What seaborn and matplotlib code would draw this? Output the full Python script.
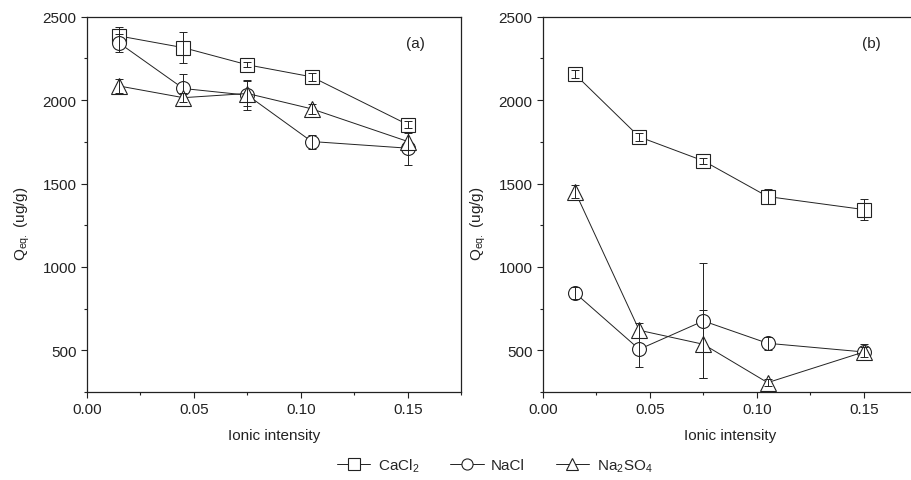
import matplotlib
matplotlib.use('Agg')
import matplotlib.pyplot as plt
import numpy as np
import pandas as pd
import seaborn as sns
from matplotlib.lines import Line2D
from matplotlib.ticker import MultipleLocator, FormatStrFormatter

# ionic intensity values shared by all series
ionic = [0.015, 0.045, 0.075, 0.105, 0.15]
salts = ['CaCl2', 'NaCl', 'Na2SO4']
salt_labels = [r'CaCl$_2$', 'NaCl', r'Na$_2$SO$_4$']
salt_markers = ['s', 'o', '^']

# panel (a)
a_cacl2 = [2385, 2315, 2212, 2140, 1853]
a_cacl2_err = [55, 95, 15, 25, 20]
a_nacl = [2343, 2070, 2030, 1752, 1712]
a_nacl_err = [55, 85, 90, 42, 100]
a_na2so4 = [2085, 2015, 2040, 1948, 1752]
a_na2so4_err = [42, 28, 75, 30, 50]

# panel (b)
b_cacl2 = [2155, 1780, 1636, 1422, 1344]
b_cacl2_err = [25, 22, 18, 45, 62]
b_nacl = [844, 506, 676, 542, 490]
b_nacl_err = [38, 105, 345, 40, 50]
b_na2so4 = [1452, 620, 536, 306, 490]
b_na2so4_err = [40, 45, 205, 20, 30]

panels = {
    '(a)': ([a_cacl2, a_nacl, a_na2so4], [a_cacl2_err, a_nacl_err, a_na2so4_err]),
    '(b)': ([b_cacl2, b_nacl, b_na2so4], [b_cacl2_err, b_nacl_err, b_na2so4_err]),
}

sns.set_style('ticks')
plt.rcParams['font.family'] = ['Liberation Sans', 'DejaVu Sans']
plt.rcParams['mathtext.fontset'] = 'custom'
plt.rcParams['mathtext.rm'] = 'Liberation Sans'

ink = '#222222'
fs = 11
fig = plt.figure(figsize=(9.11, 4.81), dpi=100)
axes = [fig.add_axes([0.0955, 0.183, 0.411, 0.780]),
        fig.add_axes([0.596, 0.183, 0.411, 0.780])]

for ax, (tag, (series, errs)) in zip(axes, panels.items()):
    for i, (salt, vals, err, mk) in enumerate(zip(salts, series, errs, salt_markers)):
        df = pd.DataFrame({'ionic': ionic, 'q': vals})
        sns.lineplot(data=df, x='ionic', y='q', ax=ax, color=ink, linewidth=0.7,
                     marker=mk, markersize=10 if mk != '^' else 11,
                     markerfacecolor='white', markeredgecolor=ink,
                     markeredgewidth=0.8, legend=False, zorder=3 + i)
        ax.errorbar(df['ionic'], df['q'], yerr=err, fmt='none', ecolor=ink,
                    elinewidth=0.7, capsize=3, capthick=0.7, zorder=3.5 + i)
    ax.set_xlim(0, 0.175)
    ax.set_ylim(250, 2500)
    ax.xaxis.set_major_locator(MultipleLocator(0.05))
    ax.xaxis.set_minor_locator(MultipleLocator(0.025))
    ax.yaxis.set_minor_locator(MultipleLocator(250))
    ax.set_yticks([500, 1000, 1500, 2000, 2500])
    ax.xaxis.set_major_formatter(FormatStrFormatter('%.2f'))
    ax.tick_params(which='major', direction='out', length=4, width=0.8,
                   labelsize=fs, colors=ink)
    ax.tick_params(which='minor', direction='out', length=2.5, width=0.8, colors=ink)
    for s in ax.spines.values():
        s.set_visible(True)
        s.set_linewidth(0.9)
        s.set_color(ink)
    ax.set_xlabel('Ionic intensity', fontsize=fs, color=ink, labelpad=8)
    ax.set_ylabel(r'Q$_{\mathregular{eq.}}$ (ug/g)', fontsize=fs, color=ink)
    ax.yaxis.set_label_coords(-0.148, 0.45)
    ax.text(0.877, 0.93, tag, transform=ax.transAxes, fontsize=fs,
            color=ink, ha='center', va='center')

handles = [Line2D([], [], color=ink, linewidth=0.7, marker=mk, markersize=8,
                  markerfacecolor='white', markeredgecolor=ink, markeredgewidth=0.8)
           for mk in salt_markers]
fig.legend(handles, salt_labels, loc='center', bbox_to_anchor=(0.543, 1 - 466 / 481),
           ncol=3, frameon=False, fontsize=fs, handlelength=2.2,
           columnspacing=2.0, handletextpad=0.5)

fig.savefig('out.png', dpi=100)
